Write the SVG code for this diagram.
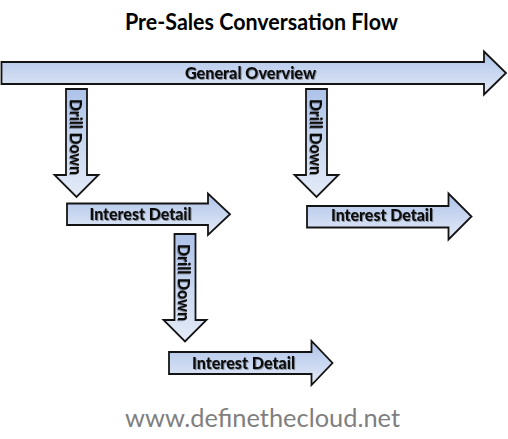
<svg xmlns="http://www.w3.org/2000/svg" width="508" height="439" viewBox="0 0 508 439">
  <defs>
    <linearGradient id="blueFill" x1="0" y1="0" x2="0" y2="1">
      <stop offset="0" stop-color="#aec3e9"/>
      <stop offset="1" stop-color="#e4ebf7"/>
    </linearGradient>
    <filter id="txtShadow" x="-10%" y="-30%" width="120%" height="160%">
      <feDropShadow dx="1" dy="1" stdDeviation="0.6" flood-color="#000" flood-opacity="0.35"/>
    </filter>
  </defs>
  <style>
    .arrow { fill: url(#blueFill); stroke: #141414; stroke-width: 1.8; stroke-linejoin: miter; }
    .lbl { font-family: Lato, "Open Sans", "DejaVu Sans", sans-serif; font-weight: 900; fill: #0d0d0d; filter: url(#txtShadow); }
    .g { font-size: 16px; }
    .h { font-size: 17px; }
    .v { font-size: 16.5px; }
    .title { font-family: Lato, "Open Sans", "DejaVu Sans", sans-serif; font-weight: bold; font-size: 23px; fill: #000; }
    .footer { font-family: Lato, "Open Sans", "DejaVu Sans", sans-serif; font-size: 25px; fill: #7f7f7f; }
  </style>
  <rect width="508" height="439" fill="#ffffff"/>

  <text class="title" x="125" y="30" textLength="273" lengthAdjust="spacingAndGlyphs">Pre-Sales Conversation Flow</text>

  <g id="general-overview">
    <path class="arrow" d="M1.5,62 H484 V51.5 L506,73 L484,94.5 V84 H1.5 Z"/>
    <text class="lbl g" x="185" y="79" textLength="131" lengthAdjust="spacingAndGlyphs">General Overview</text>
  </g>

  <g id="drill-down-1">
    <path class="arrow" d="M66,89 H87 V175 H98.5 L76.5,197 L54.5,175 H66 Z"/>
    <text class="lbl v" transform="translate(70,99) rotate(90)" x="0" y="0" textLength="76" lengthAdjust="spacingAndGlyphs">Drill Down</text>
  </g>

  <g id="drill-down-2">
    <path class="arrow" d="M306,89 H327 V175 H338.5 L316.5,197 L294.5,175 H306 Z"/>
    <text class="lbl v" transform="translate(310,99) rotate(90)" x="0" y="0" textLength="76" lengthAdjust="spacingAndGlyphs">Drill Down</text>
  </g>

  <g id="interest-detail-1">
    <path class="arrow" d="M67,203.5 H208 V193.5 L230,214.25 L208,235 V225 H67 Z"/>
    <text class="lbl h" x="89.5" y="220" textLength="102" lengthAdjust="spacingAndGlyphs">Interest Detail</text>
  </g>

  <g id="interest-detail-2">
    <path class="arrow" d="M307,206 H448.5 V193.5 L471.5,216.5 L448.5,239.5 V227.5 H307 Z"/>
    <text class="lbl h" x="331" y="220.5" textLength="102" lengthAdjust="spacingAndGlyphs">Interest Detail</text>
  </g>

  <g id="drill-down-3">
    <path class="arrow" d="M174.5,234 H195.5 V320 H206.5 L185,341.5 L163.5,320 H174.5 Z"/>
    <text class="lbl v" transform="translate(178,244) rotate(90)" x="0" y="0" textLength="77" lengthAdjust="spacingAndGlyphs">Drill Down</text>
  </g>

  <g id="interest-detail-3">
    <path class="arrow" d="M169,352 H311.5 V341 L332.5,363 L311.5,385 V374 H169 Z"/>
    <text class="lbl h" x="192" y="368.5" textLength="103" lengthAdjust="spacingAndGlyphs">Interest Detail</text>
  </g>

  <text class="footer" x="125" y="426.5" textLength="275" lengthAdjust="spacingAndGlyphs">www.definethecloud.net</text>
</svg>
